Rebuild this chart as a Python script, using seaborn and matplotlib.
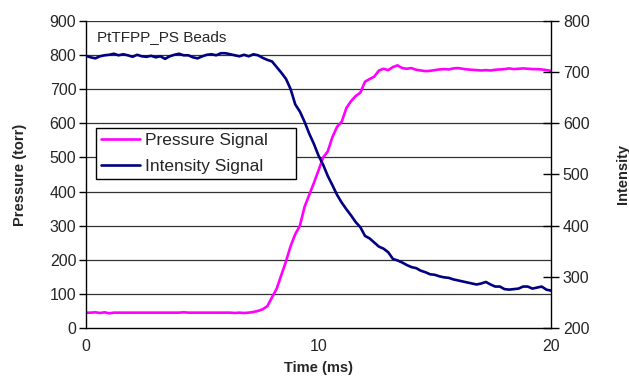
import numpy as np
import pandas as pd
import matplotlib
matplotlib.use("Agg")
import matplotlib.pyplot as plt
import seaborn as sns

time_ms = np.linspace(0, 20, 101)

pressure_torr = [
    45, 45, 46, 44, 46, 43,
    45, 45, 45, 45, 45, 45,
    45, 45, 45, 45, 45, 45,
    45, 45, 45, 46, 45, 45,
    45, 45, 45, 45, 45, 45,
    45, 45, 44, 45, 44, 45,
    47, 50, 55, 64, 90, 115, 155, 195, 240, 275,
    300, 355, 390, 425, 462, 500, 518, 560, 590, 605,
    645, 665, 680, 690, 722, 730, 737, 755, 760, 756,
    765, 770, 762, 760, 762, 757, 755, 753, 754, 756,
    758, 759, 758, 761, 762, 760, 758, 757, 756, 755,
    756, 755, 757, 758, 759, 761, 759, 760, 761, 760,
    759, 759, 758, 756, 754,
]

intensity = [
    732, 729, 727, 731, 733, 734, 736, 733, 735, 733,
    730, 734, 731, 730, 732, 729, 731, 726, 731, 734,
    736, 733, 733, 729, 727, 731, 734, 735, 733, 737,
    737, 735, 733, 731, 734, 731, 735, 733, 728, 724,
    721, 710, 699, 687, 667, 637, 623, 603, 580, 560,
    537, 519, 497, 479, 460, 445, 432, 420, 407, 397,
    380, 375, 367, 359, 355, 348, 335, 332, 328, 323,
    319, 317, 312, 309, 305, 304, 301, 299, 298, 295,
    293, 291, 289, 287, 285, 287, 290, 285, 281, 281,
    276, 275, 276, 277, 281, 281, 277, 279, 281, 275,
    273,
]

x_ticks = [0, 10, 20]
p_ticks = [0, 100, 200, 300, 400, 500, 600, 700, 800, 900]
i_ticks = [200, 300, 400, 500, 600, 700, 800]

df = pd.DataFrame({"t": time_ms, "p": pressure_torr, "i": intensity})

sns.set_style("white")
plt.rcParams["font.family"] = ["Liberation Sans", "DejaVu Sans"]

fig = plt.figure(figsize=(6.29, 3.79), dpi=100)
ax = fig.add_axes([86 / 629, 1 - 328 / 379, (551 - 86) / 629, (328 - 21) / 379])
ax2 = ax.twinx()

sns.lineplot(data=df, x="t", y="p", ax=ax, color="#FF00FF", lw=1.9, label="Pressure Signal", legend=False)
sns.lineplot(data=df, x="t", y="i", ax=ax2, color="#000080", lw=1.9, label="Intensity Signal", legend=False)

ax.set_xlim(0, 20)
ax.set_ylim(0, 900)
ax2.set_ylim(200, 800)
ax.set_xticks(x_ticks)
ax.set_yticks(p_ticks)
ax2.set_yticks(i_ticks)

for v in p_ticks[1:]:
    ax.axhline(v, color="#333333", lw=0.9, zorder=0)

for a in (ax, ax2):
    for s in a.spines.values():
        s.set_visible(False)
ax.spines["left"].set_visible(True)
ax.spines["bottom"].set_visible(True)
ax2.spines["right"].set_visible(True)
for s in (ax.spines["left"], ax.spines["bottom"], ax2.spines["right"]):
    s.set_color("black")
    s.set_linewidth(1.0)

ax.tick_params(axis="both", direction="out", length=5, width=1, color="black", labelsize=11.5, pad=3)
ax2.tick_params(axis="y", direction="inout", length=11, width=1, color="black", labelsize=11.5, pad=3)
ax.tick_params(axis="y", pad=2)

ax.set_xlabel("Time (ms)", fontsize=10.5, fontweight="bold", labelpad=5)
ax.set_ylabel("Pressure (torr)", fontsize=10.5, fontweight="bold", labelpad=16)
ax2.set_ylabel("Intensity", fontsize=10.5, fontweight="bold", labelpad=19)

ax.text(97 / 629, 1 - 37 / 379, "PtTFPP_PS Beads", transform=fig.transFigure,
        fontsize=11, va="center", ha="left")

h1, l1 = ax.get_legend_handles_labels()
h2, l2 = ax2.get_legend_handles_labels()
leg = ax2.legend(h1 + h2, l1 + l2, loc="upper left", mode="expand",
                 bbox_to_anchor=(96 / 629, 1 - 181 / 379, 200 / 629, 53 / 379),
                 bbox_transform=fig.transFigure,
                 borderaxespad=0, frameon=True, fancybox=False, fontsize=12.5,
                 handlelength=2.25, handletextpad=0.3, labelspacing=0.6,
                 borderpad=0.3, framealpha=1)
leg.get_frame().set_edgecolor("black")
leg.get_frame().set_linewidth(1.0)

ax.set_zorder(1)
ax2.set_zorder(2)
ax.patch.set_visible(True)
ax2.patch.set_visible(False)

fig.savefig("out.png", dpi=100)
